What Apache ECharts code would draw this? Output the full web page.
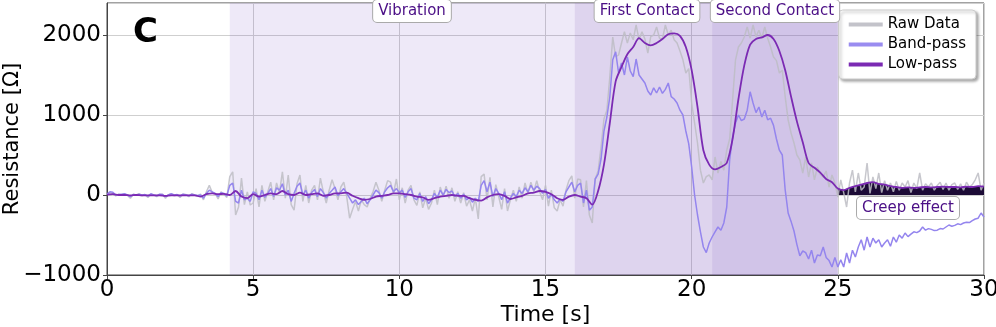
<!DOCTYPE html>
<html>
<head>
<meta charset="utf-8">
<script src="https://cdn.jsdelivr.net/npm/echarts@6/dist/echarts.min.js"></script>
<style>
  html, body { margin: 0; padding: 0; background: #fff; }
  #chart { width: 996px; height: 327px; }
</style>
</head>
<body>
<div id="chart"></div>
<script>
// sample spacing of the recordings [s]
var rawStep = 0.1;
var lowStep = 0.2;

// raw resistance, one row per second (0.0 .. 29.9) + 30.0
var rawData = [
  10, 30, 20, -10, 10, 0, 15, -5, -40, 10,
  0, 15, -10, 5, -30, 10, 0, -20, 5, 10,
  -40, 5, 15, -10, 0, -30, 10, 5, -20, 15,
  0, -10, 10, -60, 40, 120, 30, 20, -50, 40,
  10, -30, 230, 290, -250, -150, 210, -120, 40, -125,
  -100, 80, -150, 120, -80, 40, 160, -60, 150, 30,
  290, -40, 250, -120, -190, 140, 250, -80, 120, -100,
  60, 120, -60, 210, 40, -100, 60, 190, 80, -60,
  100, 160, -20, -290, -180, -80, -200, -60, -120, -150,
  -40, 40, 160, 60, -80, 60, 180, 160, 20, 200,
  -60, 90, -100, 60, 120, -60, -130, 40, -160, -40,
  -180, -100, 60, -120, 100, -20, 110, -40, 90, -80,
  40, -100, 30, -140, -60, -200, -40, -300, 230, 260,
  -60, 220, -150, 130, -20, -180, 80, -200, -60, 60,
  -80, 100, -40, 150, 20, 160, 40, 180, 40, -60,
  120, -140, 60, -160, -200, -60, -140, 60, 180, 240,
  -40, 200, 190, -150, 180, -250, -350, 200, 300, 600,
  950, 1060, 1475, 1975, 1725, 1750, 1900, 2040, 1900, 2025,
  1940, 2125, 1940, 2040, 1950, 1775, 1980, 2000, 2100, 1960,
  1950, 2125, 2000, 2060, 1940, 1900, 1800, 1690, 1525, 1580,
  1150, 900, 650, 310, 150, 230, 250, 190, 475, 275,
  420, 310, 560, 700, 1190, 1690, 1850, 1900, 1975, 2100,
  1960, 2125, 1980, 2060, 1960, 2100, 1960, 1850, 1725, 1680,
  1525, 1560, 1225, 940, 775, 650, 500, 440, 275, 475,
  225, 400, 190, 350, 260, 225, 300, 100, 250, 150,
  -25, 190, 30, -150, 150, 310, 40, 275, 60, 100,
  400, 20, 225, 80, 275, 30, 180, 60, 150, 40,
  170, 60, 150, 100, 180, 30, 150, 80, 275, 60,
  140, 100, 150, 60, 120, 160, 70, 150, 60, 130,
  150, 70, 140, 60, 160, 100, 130, 190, 275, 60,
  150
];

// band-pass filtered, same spacing as raw
var bandData = [
  10, 40, 35, 0, 5, 10, 15, 0, -20, 5,
  0, 10, 0, 5, -15, 15, 0, -10, 10, 5,
  -20, 0, 15, 0, 5, -15, 10, 0, -10, 10,
  0, -5, 0, -40, 20, 60, 40, 20, -20, 30,
  20, -10, 120, 150, -80, -100, 60, -60, -40, -80,
  40, 20, -60, 60, -30, 20, 80, -20, 90, 60,
  140, 0, 60, -80, 20, 110, 150, 0, 60, -40,
  30, 70, -20, 80, 30, -40, 20, 60, 100, -10,
  40, 80, 20, -40, -100, -60, -120, -80, -40, -110,
  -60, 0, 60, 30, -40, 40, 90, 120, 40, 80,
  30, 60, -30, 40, 80, -40, -60, 20, -80, -20,
  -110, -60, 20, -30, 60, 0, 70, 30, 50, -20,
  20, -40, 10, -60, -30, -90, -40, -80, 120, 180,
  40, 160, -20, 80, 20, -60, 40, -100, -40, 20,
  -20, 60, 20, 90, 40, 120, 60, 110, 80, 20,
  70, -40, 10, -60, -100, -50, -80, 40, 100, 160,
  40, 120, 150, -100, 60, -190, -150, 200, 260, 450,
  800, 975, 1225, 1690, 1790, 1525, 1650, 1500, 1725, 1550,
  1480, 1700, 1500, 1450, 1400, 1300, 1250, 1340, 1275, 1350,
  1270, 1320, 1400, 1230, 1200, 1150, 1060, 1000, 800, 640,
  350, 0, -250, -460, -650, -720, -600, -525, -460, -400,
  -440, -350, -150, 440, 725, 900, 1000, 930, 950, 1060,
  1290, 1150, 1030, 1100, 975, 1060, 940, 960, 870, 700,
  560, 500, 60, -225, -330, -450, -620, -760, -700, -720,
  -800, -690, -850, -750, -760, -650, -780, -820, -900, -780,
  -900, -810, -900, -725, -850, -690, -775, -650, -560, -690,
  -525, -650, -540, -600, -560, -650, -600, -560, -640, -525,
  -590, -500, -540, -475, -520, -490, -460, -470, -450, -400,
  -440, -420, -430, -445, -440, -420, -425, -400, -375, -390,
  -380, -360, -370, -350, -340, -345, -320, -300, -290, -225,
  -275
];

// low-pass filtered, every 0.2 s
var lowData = [
  5, 10, 0, 0, -5,
  0, -5, -5, -5, -5,
  -10, -5, -5, -5, -5,
  -5, -20, 10, 20, 10,
  15, 0, 50, -20, -40,
  10, -20, 0, 20, 10,
  50, 10, 0, 30, 0,
  10, 20, -10, 0, 20,
  20, 30, -10, -40, -60,
  -50, -20, -10, 0, 20,
  20, 10, 0, -20, -30,
  -60, -40, -20, -10, 0,
  -10, -10, -40, -60, -70,
  -30, 0, 10, -10, -50,
  -30, -10, 20, 30, 50,
  40, 10, -40, -60, -20,
  0, -20, -40, -120, 50,
  380, 900, 1420, 1600, 1760,
  1850, 1960, 1900, 1870, 1900,
  1950, 2010, 2020, 1990, 1850,
  1560, 1100, 560, 380, 320,
  350, 400, 700, 1200, 1620,
  1880, 1950, 1970, 2000, 1950,
  1800, 1560, 1230, 920, 660,
  400, 340, 280, 200, 160,
  80, 60, 90, 110, 130,
  150, 160, 140, 130, 110,
  100, 90, 95, 90, 95,
  100, 95, 100, 105, 100,
  100, 95, 105, 100, 110,
  105
];

// phases of the experiment [s]
var phases = [
  { name: 'Vibration', from: 4.2, to: 16.0 },
  { name: 'First Contact', from: 16.0, to: 20.7 },
  { name: 'Second Contact', from: 20.7, to: 25.0 }
];
var creepStart = 25.0;

var yTicks = [-1000, 0, 1000, 2000];

function toPairs(arr, step) {
  return arr.map(function (v, i) { return [+(i * step).toFixed(2), v]; });
}

var rawPairs = toPairs(rawData, rawStep);
var bandPairs = toPairs(bandData, rawStep);
var lowPairs = toPairs(lowData, lowStep);
var creepPairs = lowPairs.filter(function (p) { return p[0] >= creepStart; });

var areaColors = ['rgba(115,75,200,0.12)', 'rgba(115,75,185,0.24)', 'rgba(115,75,185,0.33)'];
var font = 'DejaVu Sans';

var myChart = echarts.init(document.getElementById('chart'));

myChart.setOption({
  animation: false,
  textStyle: { fontFamily: font },
  grid: {
    left: 107, right: 12, top: 3, bottom: 52,
    outerBoundsMode: 'none', containLabel: false,
    show: true, borderColor: '#444', borderWidth: 1, backgroundColor: 'transparent'
  },
  legend: {
    data: ['Raw Data', 'Band-pass', 'Low-pass'],
    orient: 'vertical',
    right: 20, top: 10,
    icon: 'rect', itemWidth: 34, itemHeight: 4, itemGap: 5,
    padding: [7, 10, 7, 10],
    backgroundColor: '#fff',
    borderColor: '#ccc', borderWidth: 1, borderRadius: 4,
    shadowColor: 'rgba(0,0,0,0.35)', shadowBlur: 3, shadowOffsetX: 2, shadowOffsetY: 2,
    textStyle: { fontSize: 15, color: '#000', fontFamily: font }
  },
  xAxis: {
    type: 'value', min: 0, max: 30, interval: 5,
    name: 'Time [s]', nameLocation: 'middle', nameGap: 29, nameMoveOverlap: false,
    nameTextStyle: { fontSize: 22, color: '#000', fontFamily: font },
    axisLine: { show: true, onZero: false, lineStyle: { color: '#444' } },
    axisTick: { show: true, length: 4, lineStyle: { color: '#444' } },
    axisLabel: { fontSize: 23, color: '#000', margin: 4, fontFamily: font },
    splitLine: { show: true, lineStyle: { color: '#cfcfcf', width: 1 } }
  },
  yAxis: {
    type: 'value', min: -1000, max: 2400, interval: 1000,
    name: 'Resistance [Ω]', nameLocation: 'middle', nameGap: 84, nameMoveOverlap: false,
    nameTextStyle: { fontSize: 21, color: '#000', fontFamily: font },
    axisLine: { show: true, onZero: false, lineStyle: { color: '#444' } },
    axisTick: { show: true, length: 4, lineStyle: { color: '#444' } },
    axisLabel: {
      fontSize: 23, color: '#000', margin: 6, fontFamily: font, showMaxLabel: false,
      formatter: function (v) { return yTicks.indexOf(v) < 0 ? '' : String(v).replace('-', '\u2212'); }
    },
    splitLine: { show: true, lineStyle: { color: '#cfcfcf', width: 1 } }
  },
  series: [
    {
      name: 'creep',
      type: 'line',
      data: creepPairs,
      symbol: 'none',
      lineStyle: { width: 0, opacity: 0 },
      areaStyle: { color: '#1c0b36', opacity: 1 },
      markArea: {
        silent: true,
        label: { show: false },
        data: phases.map(function (p, i) {
          return [{ xAxis: p.from, itemStyle: { color: areaColors[i] } }, { xAxis: p.to }];
        })
      }
    },
    {
      name: 'Raw Data',
      type: 'line',
      data: rawPairs,
      symbol: 'none',
      itemStyle: { color: '#c3c3ca' },
      lineStyle: { color: '#bdbdc4', width: 1.5, opacity: 0.85 }
    },
    {
      name: 'Band-pass',
      type: 'line',
      data: bandPairs,
      symbol: 'none',
      itemStyle: { color: '#9a8cf0' },
      lineStyle: { color: '#9485ee', width: 1.5 }
    },
    {
      name: 'Low-pass',
      type: 'line',
      data: lowPairs,
      symbol: 'none',
      smooth: 0.3,
      itemStyle: { color: '#7b2ab3' },
      lineStyle: { color: '#7b2ab3', width: 1.8 }
    }
  ],
  graphic: [
    {
      type: 'text', left: 133, top: 16, z: 100,
      style: { text: 'C', font: 'bold 34px "DejaVu Sans"', fill: '#000' }
    },
    {
      type: 'text', x: 412, y: 11, z: 100,
      style: {
        text: 'Vibration', font: '15px "DejaVu Sans"', fill: '#4b0f86',
        align: 'center', verticalAlign: 'middle',
        backgroundColor: '#fff', borderColor: '#aaa', borderWidth: 1, borderRadius: 4, padding: [4, 5, 3, 5]
      }
    },
    {
      type: 'text', x: 647, y: 11, z: 100,
      style: {
        text: 'First Contact', font: '15px "DejaVu Sans"', fill: '#4b0f86',
        align: 'center', verticalAlign: 'middle',
        backgroundColor: '#fff', borderColor: '#aaa', borderWidth: 1, borderRadius: 4, padding: [4, 5, 3, 5]
      }
    },
    {
      type: 'text', x: 775, y: 11, z: 100,
      style: {
        text: 'Second Contact', font: '15px "DejaVu Sans"', fill: '#4b0f86',
        align: 'center', verticalAlign: 'middle',
        backgroundColor: '#fff', borderColor: '#aaa', borderWidth: 1, borderRadius: 4, padding: [4, 5, 3, 5]
      }
    },
    {
      type: 'text', x: 908, y: 208, z: 100,
      style: {
        text: 'Creep effect', font: '15px "DejaVu Sans"', fill: '#4b0f86',
        align: 'center', verticalAlign: 'middle',
        backgroundColor: '#fff', borderColor: '#aaa', borderWidth: 1, borderRadius: 4, padding: [4, 5, 3, 5]
      }
    }
  ]
});
</script>
</body>
</html>
